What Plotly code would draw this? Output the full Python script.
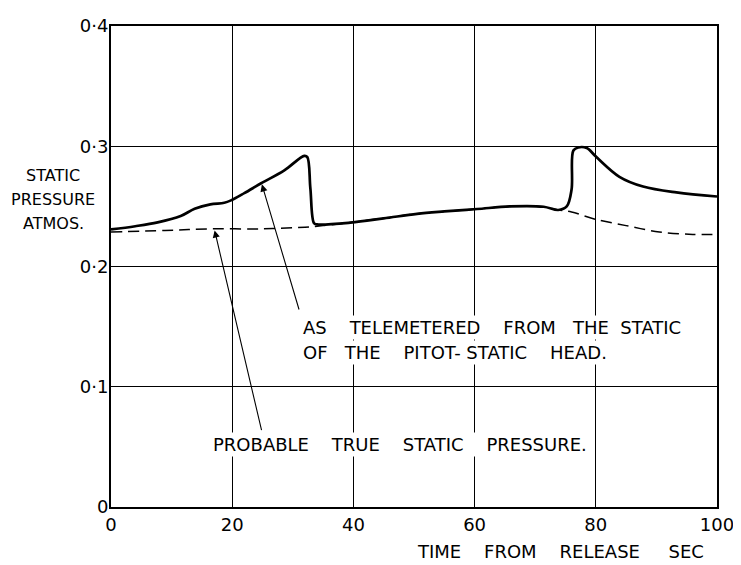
import plotly.graph_objects as go

# Telemetered static pressure (solid)
t_meas = [0, 4, 7.7, 11.5, 13.8, 16.4, 18.7, 19.8, 22, 24.7, 28.6, 31.9, 32.4, 32.9, 33.5, 34,
          39.5, 45, 50.5, 55, 60.4, 65.8, 71.4, 73.8, 75.2, 76, 76.3, 77.1, 78.5, 80.1,
          83.9, 87.8, 93.3, 100]
p_meas = [0.2308, 0.2335, 0.2367, 0.242, 0.248, 0.2517, 0.253, 0.255, 0.261, 0.269, 0.280, 0.292,
          0.291, 0.265, 0.236, 0.235, 0.2365, 0.240, 0.2438, 0.2458, 0.2478, 0.250, 0.2497,
          0.247, 0.250, 0.264, 0.2965, 0.299, 0.2985, 0.291, 0.2746, 0.2665, 0.2616, 0.2582]

# Probable true static pressure (dashed)
t_true = [0, 8.9, 16.4, 25, 32, 35, 39.5, 50.5, 60.4, 65.8, 71.4, 73.8, 76, 79.6, 85, 90.5, 96, 100]
p_true = [0.2287, 0.230, 0.2313, 0.2313, 0.2327, 0.234, 0.2365, 0.2438, 0.2478, 0.250, 0.2497,
          0.247, 0.2454, 0.2397, 0.234, 0.2287, 0.2267, 0.2267]

x_ticks = [0, 20, 40, 60, 80, 100]
x_tick_text = ["0", "20", "40", "60", "80", "100"]
y_ticks = [0, 0.1, 0.2, 0.3, 0.4]
y_tick_text = ["0", "0·1", "0·2", "0·3", "0·4"]

FONT = "DejaVu Sans"
TXT = dict(family=FONT, size=18, color="black")
YT = dict(family=FONT, size=16, color="black")


def sp(n):
    return "&nbsp;" * n


fig = go.Figure()
fig.add_trace(go.Scatter(x=t_true, y=p_true, mode="lines",
                         line=dict(color="black", width=1.5, dash="11px,6px"),
                         line_shape="spline", showlegend=False))
fig.add_trace(go.Scatter(x=t_meas, y=p_meas, mode="lines",
                         line=dict(color="black", width=2.7),
                         line_shape="spline", showlegend=False))

ann = []
ann.append(dict(x=31.4, y=0.1496, xref="x", yref="y", xanchor="left", yanchor="middle",
                text="AS" + sp(4) + "TELEMETERED" + sp(4) + "FROM" + sp(3) + "THE" + sp(2) + "STATIC",
                showarrow=False, bgcolor="white", borderpad=1, font=TXT))
ann.append(dict(x=31.4, y=0.1285, xref="x", yref="y", xanchor="left", yanchor="middle",
                text="OF" + sp(3) + "THE" + sp(4) + "PITOT-" + sp(1) + "STATIC" + sp(4) + "HEAD.",
                showarrow=False, bgcolor="white", borderpad=1, font=TXT))
ann.append(dict(x=16.5, y=0.052, xref="x", yref="y", xanchor="left", yanchor="middle",
                text="PROBABLE" + sp(4) + "TRUE" + sp(4) + "STATIC" + sp(4) + "PRESSURE.",
                showarrow=False, bgcolor="white", borderpad=1, font=TXT))
# arrows
ann.append(dict(x=24.9, y=0.2683, ax=31.1, ay=0.163, xref="x", yref="y", axref="x", ayref="y",
                text="", showarrow=True, arrowhead=2, arrowsize=1.3, arrowwidth=1.1, arrowcolor="black"))
ann.append(dict(x=17.1, y=0.2300, ax=24.9, ay=0.0626, xref="x", yref="y", axref="x", ayref="y",
                text="", showarrow=True, arrowhead=2, arrowsize=1.3, arrowwidth=1.1, arrowcolor="black"))
# y axis title (three lines)
for txt, yy in [("STATIC", 0.2756), ("PRESSURE", 0.2561), ("ATMOS.", 0.2358)]:
    ann.append(dict(x=-0.095, y=yy, xref="paper", yref="y", xanchor="center", yanchor="middle",
                    text=txt, showarrow=False, font=YT))
# x axis title
ann.append(dict(x=0.982, y=-0.0935, xref="paper", yref="paper", xanchor="right", yanchor="middle",
                text="TIME" + sp(4) + "FROM" + sp(4) + "RELEASE" + sp(5) + "SEC",
                showarrow=False, font=TXT))
fig.update_layout(annotations=ann)

TICKFONT = dict(family=FONT, size=18, color="black")
fig.update_xaxes(range=[0, 100], tickvals=x_ticks, ticktext=x_tick_text, showgrid=True,
                 gridcolor="black", gridwidth=1.1, zeroline=False, showline=True, linecolor="black",
                 linewidth=2, mirror=True, ticks="", tickfont=TICKFONT, ticklabeloverflow="allow")
fig.update_yaxes(range=[0, 0.4], tickvals=y_ticks, ticktext=y_tick_text, showgrid=True,
                 gridcolor="black", gridwidth=1.1, zeroline=False, showline=True, linecolor="black",
                 linewidth=2, mirror=True, ticks="", tickfont=TICKFONT, ticklabeloverflow="allow",
                 ticklabelstandoff=-3)

fig.update_layout(width=733, height=557, margin=dict(l=103, r=23, t=7, b=58),
                  plot_bgcolor="white", paper_bgcolor="white")

fig.write_html("out.html")
